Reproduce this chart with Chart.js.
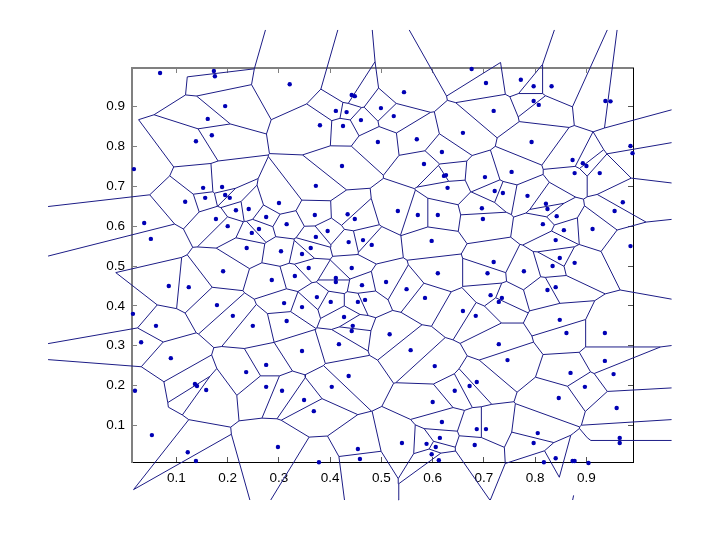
<!DOCTYPE html>
<html>
<head>
<meta charset="utf-8">
<style>
    html, body { margin: 0; padding: 0; background: #fff; }
    canvas { display: block; }
</style>
<script src="https://cdn.jsdelivr.net/npm/chart.js@4"></script>
</head>
<body>
<canvas id="chart" width="720" height="540"></canvas>
<script>
// sites
const siteX = [.068,.173,.175,.195,.161,.169,.138,.017,.152,.189,.156,.195,.204,
    .321,.442,.448,.411,.432,.499,.460,.380,.425,.493,.423,.372,
    .676,.704,.772,.544,.524,.719,.659,.569,.618,.583,.622,.626,.702,.754,.629,.721,.737,
    .797,.832,.797,.807,.937,.947,.793,.986,.990,.873,.893,.900,.877,.926,.785,
    .117,.216,.241,.177,.200,.247,.261,.037,.050,.237,.191,.085,.124,.179,.015,.210,.060,.249,
    .300,.370,.434,.448,.275,.315,.395,.372,.464,.436,.481,.362,.304,.345,.358,.442,.331,.286,
    .411,.411,.462,.509,.374,.310,.345,.401,.454,.468,.427,.315,.444,.442,
    .532,.571,.610,.696,.698,.598,.719,.610,.707,.549,.585,.713,.735,.729,.659,.684,.516,
    .821,.824,.842,.971,.955,.815,.856,.912,.840,.986,.848,.877,.834,.778,.840,.824,.848,.861,.936,
    .031,.089,.236,.136,.140,.158,.019,.052,.122,.138,
    .417,.345,.275,.436,.403,.275,.306,.349,.368,.454,.458,.298,.378,
    .557,.729,.746,.604,.686,.672,.643,.600,.618,.686,.704,.614,.540,.588,.606,.682,.598,.612,
    .936,.953,.869,.897,.846,.959,.805,.797,.965,.965,.840,.817,.873,.877,.904];
const siteY = [.984,.989,.976,.901,.869,.828,.813,.743,.696,.698,.671,.678,.671,
    .956,.929,.926,.889,.886,.896,.866,.853,.851,.811,.751,.701,
    .994,.959,.967,.936,.876,.889,.834,.818,.786,.756,.726,.728,.723,.736,.696,.688,.683,
    .951,.951,.914,.904,.914,.913,.811,.801,.783,.766,.758,.751,.733,.733,.676,
    .661,.640,.643,.618,.600,.583,.593,.608,.568,.545,.487,.450,.447,.402,.380,.375,.350,.350,
    .658,.628,.630,.618,.623,.605,.588,.573,.565,.560,.553,.545,.537,.530,.495,.495,.475,.465,
    .470,.460,.452,.460,.422,.407,.397,.410,.410,.415,.372,.362,.350,.337,
    .638,.628,.628,.645,.618,.563,.510,.482,.482,.442,.420,.427,.420,.410,.387,.375,.329,
    .656,.643,.625,.660,.638,.605,.590,.593,.565,.550,.520,.508,.500,.487,.447,.440,.365,.332,.332,
    .309,.269,.234,.204,.199,.189,.187,.076,.033,.011,
    .304,.287,.252,.224,.197,.197,.187,.164,.136,.041,.016,.046,.008,
    .289,.304,.264,.249,.209,.199,.187,.159,.109,.091,.091,.069,.056,.054,.046,.051,.028,.013,
    .262,.229,.232,.197,.169,.144,.081,.056,.069,.056,.018,.008,.011,.011,.006];
const xTicks = [.1, .2, .3, .4, .5, .6, .7, .8, .9];
const yTicks = [.1, .2, .3, .4, .5, .6, .7, .8, .9];
const xLimits = [.0132, .9909];
const yLimits = [.0085, .9966];
// the far ends of the open cells stop here
const outerX = [-.1506, 1.0662];
const outerY = [-.0868, 1.092];
// edges the picture leaves out, as pairs of site numbers
const missingEdges = ['0-1', '0-7', '65-71', '149-150', '150-152', '25-27', '195-196',
    '196-197', '197-198', '193-198'];

function clipCell(poly, ax, ay, bx, by, tag) {
    const nx = bx - ax, ny = by - ay;
    const mx = (ax + bx) / 2, my = (ay + by) / 2;
    const side = p => (mx - p.x) * nx + (my - p.y) * ny;
    const out = [];
    poly.forEach((a, i) => {
        const b = poly[(i + 1) % poly.length];
        const da = side(a), db = side(b);
        const cross = () => {
            const t = da / (da - db);
            return { x: a.x + (b.x - a.x) * t, y: a.y + (b.y - a.y) * t };
        };
        if (da >= 0) {
            out.push(a);
            if (db < 0) out.push({ ...cross(), tag: tag });
        } else if (db >= 0) {
            out.push({ ...cross(), tag: a.tag });
        }
    });
    return out;
}

function voronoiEdges() {
    const edges = [];
    siteX.forEach((sx, i) => {
        let poly = [
            { x: outerX[0], y: outerY[0], tag: -1 },
            { x: outerX[1], y: outerY[0], tag: -1 },
            { x: outerX[1], y: outerY[1], tag: -1 },
            { x: outerX[0], y: outerY[1], tag: -1 }
        ];
        siteX.forEach((ox, j) => {
            if (j !== i) poly = clipCell(poly, sx, siteY[i], ox, siteY[j], j);
        });
        poly.forEach((a, k) => {
            if (a.tag > i && !missingEdges.includes(i + '-' + a.tag)) {
                const b = poly[(k + 1) % poly.length];
                edges.push({ x: a.x, y: a.y }, { x: b.x, y: b.y }, { x: null, y: null });
            }
        });
    });
    return edges;
}

const sites = siteX.map((x, i) => ({ x: x, y: siteY[i] }));

function axisOptions(position, limits, tickValues, size, color, tickColor, showLabels, padding) {
    return {
        type: 'linear',
        position: position,
        min: limits[0],
        max: limits[1],
        afterBuildTicks: scale => { scale.ticks = tickValues.map(v => ({ value: v })); },
        afterFit: scale => {
            if (scale.isHorizontal()) scale.height = size; else scale.width = size;
        },
        border: { color: color.c, width: color.w },
        grid: { drawOnChartArea: false, drawTicks: true, tickLength: -5, tickColor: tickColor, tickWidth: 1 },
        ticks: {
            display: showLabels,
            autoSkip: false,
            maxRotation: 0,
            padding: padding,
            color: '#000',
            font: { family: "'Liberation Sans', sans-serif", size: 13.5 },
            callback: v => v.toFixed(1)
        }
    };
}

new Chart(document.getElementById('chart').getContext('2d'), {
    type: 'scatter',
    data: {
        datasets: [
            {
                data: sites,
                showLine: false,
                pointRadius: 2.2,
                pointBackgroundColor: '#0000b4',
                pointBorderWidth: 0,
                clip: false
            },
            {
                data: voronoiEdges(),
                showLine: true,
                spanGaps: false,
                pointRadius: 0,
                borderColor: '#1c1c86',
                borderWidth: 1,
                clip: false
            }
        ]
    },
    options: {
        responsive: false,
        animation: false,
        layout: { padding: { left: 92, right: 87, top: 68, bottom: 38 } },
        plugins: { legend: { display: false }, tooltip: { enabled: false } },
        scales: {
            x: axisOptions('bottom', xLimits, xTicks, 40, { c: '#000', w: 1 }, '#555', true, 13),
            y: axisOptions('left', yLimits, yTicks, 40, { c: '#808080', w: 2 }, '#808080', true, 12),
            x2: axisOptions('top', xLimits, xTicks, 0, { c: '#808080', w: 2 }, '#808080', false, 0),
            y2: axisOptions('right', yLimits, yTicks, 0, { c: '#000', w: 1 }, '#555', false, 0)
        }
    }
});
</script>
</body>
</html>
